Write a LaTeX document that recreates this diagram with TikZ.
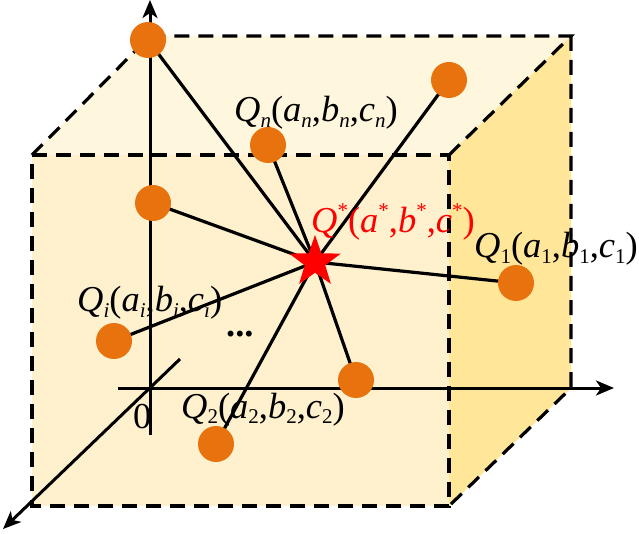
\documentclass[tikz,border=0pt]{standalone}
\usepackage{fontspec}
\setmainfont{Liberation Serif}
\usetikzlibrary{arrows.meta,shapes.geometric}
\definecolor{topface}{RGB}{255,246,222}
\definecolor{frontface}{RGB}{255,241,206}
\definecolor{rightface}{RGB}{255,230,153}
\definecolor{dotorange}{RGB}{232,114,14}
\newcommand\Lsb[1]{\raisebox{-0.16em}{\fontsize{21}{21}\selectfont #1}}
\newcommand\Lsp[1]{\raisebox{0.42em}{\fontsize{21}{21}\selectfont #1}}
\begin{document}
\begin{tikzpicture}[x=1pt,y=-1pt,
  edge/.style={line width=3.2pt,dash pattern=on 15pt off 9pt},
  axis/.style={line width=3pt,-{Stealth[length=18pt,width=15pt,inset=5pt]}},
  link/.style={line width=3.2pt},
  dot/.style={circle,fill=dotorange,minimum size=36pt,inner sep=0pt},
  starnode/.style={star,star points=5,star point ratio=2.5,fill=red,minimum size=54pt,inner sep=0pt},
  lab/.style={anchor=base west,inner sep=0pt,font=\fontsize{36.5}{40}\selectfont}]
\useasboundingbox (0,0) rectangle (639,534);
% cube corners
\coordinate (F1) at (32,155);
\coordinate (F2) at (449,155);
\coordinate (F3) at (449,506);
\coordinate (F4) at (32,506);
\coordinate (B1) at (150,36);
\coordinate (B2) at (571,36);
\coordinate (B3) at (571,388);
% faces
\fill[topface] (F1) -- (B1) -- (B2) -- (F2) -- cycle;
\fill[rightface] (F2) -- (B2) -- (B3) -- (F3) -- cycle;
\fill[frontface] (F1) -- (F2) -- (F3) -- (F4) -- cycle;
% dashed edges
\draw[edge] (F1) -- (F2) -- (F3) -- (F4) -- cycle;
\draw[edge] (F1) -- (B1) -- (B2) -- (F2);
\draw[edge] (B2) -- (B3) -- (F3);
% axes
\coordinate (O) at (150,388);
\coordinate (zs) at (150,435);
\coordinate (ze) at (150,0);
\coordinate (xs) at (118,388);
\coordinate (xe) at (614,388);
\coordinate (ys) at (180,359);
\coordinate (ye) at (3,529);
\draw[axis] (zs) -- (ze);
\draw[axis] (xs) -- (xe);
\draw[axis] (ys) -- (ye);
\node[lab] (zero) at (133,428) {0};
% points
\coordinate (S) at (315,262);
\coordinate (P1) at (148,40);
\coordinate (P2) at (268,145);
\coordinate (P3) at (449,80);
\coordinate (P4) at (153,203);
\coordinate (P5) at (516,283);
\coordinate (P6) at (114,341);
\coordinate (P7) at (356,380);
\coordinate (P8) at (216,444);
\foreach \p in {P1,P2,P3,P4,P5,P6,P7,P8} \draw[link] (S) -- (\p);
\foreach \p in {P1,P2,P3,P4,P5,P6,P7,P8} \node[dot] (d\p) at (\p) {};
\node[starnode] (star) at (S) {};
% labels
\node[lab] (ln) at (234,122) {\textit{Q}\Lsb{\textit{n}}(\textit{a}\Lsb{\textit{n}},\textit{b}\Lsb{\textit{n}},\textit{c}\Lsb{\textit{n}})};
\node[lab,text=red] (ls) at (311,233) {\textit{Q}\Lsp{*}(\textit{a}\Lsp{*},\textit{b}\Lsp{*},\textit{c}\Lsp{*})};
\node[lab] (l1) at (474,258) {\textit{Q}\Lsb{1}(\textit{a}\Lsb{1},\textit{b}\Lsb{1},\textit{c}\Lsb{1})};
\node[lab] (li) at (77,312) {\textit{Q}\Lsb{\textit{i}}(\textit{a}\Lsb{\textit{i}},\textit{b}\Lsb{\textit{i}},\textit{c}\Lsb{\textit{i}})};
\node[lab] (l2) at (181,418) {\textit{Q}\Lsb{2}(\textit{a}\Lsb{2},\textit{b}\Lsb{2},\textit{c}\Lsb{2})};
\node[lab] (dots) at (226,336) {\textbf{...}};
\end{tikzpicture}
\end{document}
